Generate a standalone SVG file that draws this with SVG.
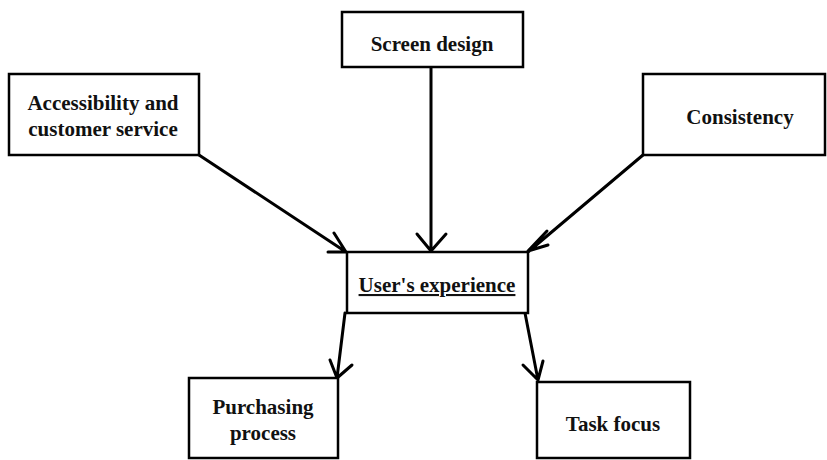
<svg xmlns="http://www.w3.org/2000/svg" width="827" height="460" viewBox="0 0 827 460">
<style>
.box{fill:#fff;stroke:#000;stroke-width:2.5}
.t{font-family:"Liberation Serif","Times New Roman",serif;font-weight:bold;font-size:21px;fill:#111;text-anchor:middle}
.c{fill:none;stroke:#000;stroke-width:3;stroke-linecap:round;stroke-linejoin:round}
</style>
<rect width="827" height="460" fill="#fff"/>
<g id="connectors">
<path class="c" d="M199,155 L346,252 M328,252 L346,252 L334,233"/>
<path class="c" d="M431,67 L431,251 M417,234 L431,251 L446,234"/>
<path class="c" d="M643,155 L528,252 M547,231 L528,251 L548,245"/>
<path class="c" d="M345,313 L337,378 M330,360 L337,378 L352,365"/>
<path class="c" d="M525,313 L538,380 M523,365 L538,380 L543,361"/>
</g>
<g id="accessibility">
<rect class="box" x="9" y="74" width="190" height="81"/>
<text class="t" x="103" y="110">Accessibility and</text>
<text class="t" x="103" y="136">customer service</text>
</g>
<g id="screen-design">
<rect class="box" x="342" y="12" width="181" height="55"/>
<text class="t" x="432" y="51">Screen design</text>
</g>
<g id="consistency">
<rect class="box" x="643" y="74" width="182" height="81"/>
<text class="t" x="740" y="124">Consistency</text>
</g>
<g id="users-experience">
<rect class="box" x="347" y="252" width="181" height="61"/>
<text class="t" x="437" y="292" text-decoration="underline">User's experience</text>
</g>
<g id="purchasing">
<rect class="box" x="189" y="378" width="149" height="80"/>
<text class="t" x="263" y="414">Purchasing</text>
<text class="t" x="263" y="440">process</text>
</g>
<g id="task-focus">
<rect class="box" x="537" y="382" width="153" height="76"/>
<text class="t" x="613" y="431">Task focus</text>
</g>
</svg>
